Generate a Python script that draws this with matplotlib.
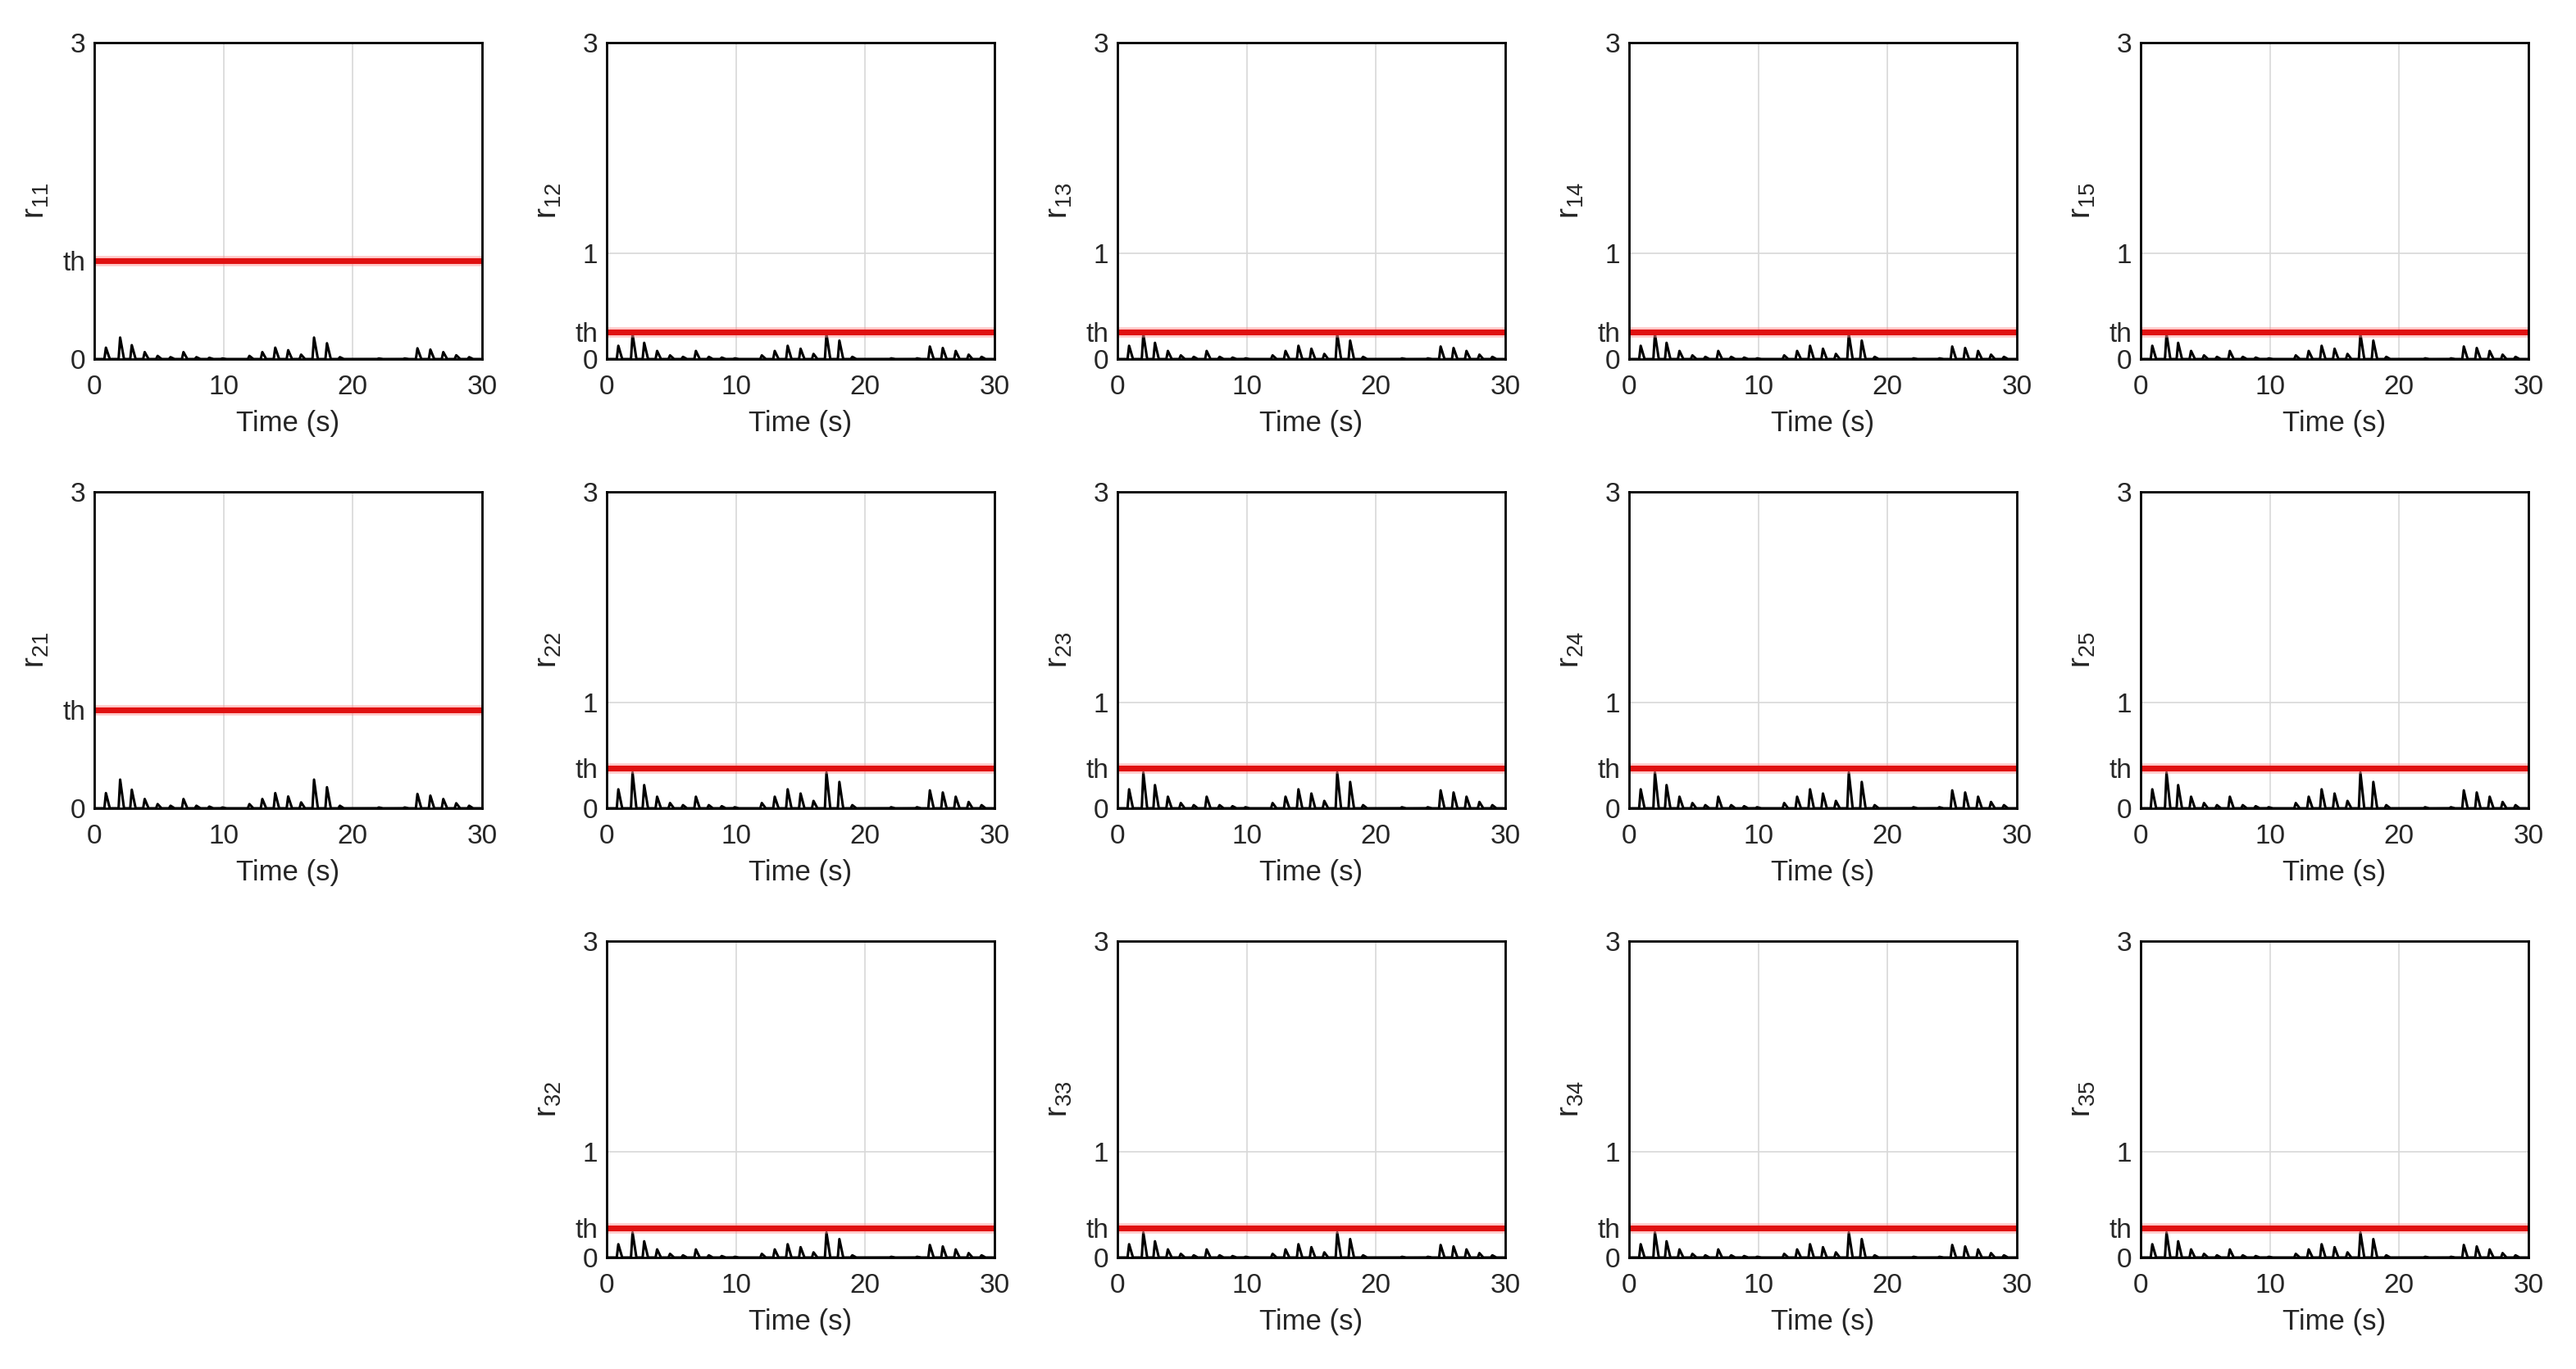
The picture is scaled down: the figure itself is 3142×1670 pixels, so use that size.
import numpy as np
import matplotlib
matplotlib.use('Agg')
import matplotlib.pyplot as plt

plt.rcParams['font.family'] = ['Liberation Sans', 'DejaVu Sans']
plt.rcParams['mathtext.default'] = 'regular'

# peak times (s) and base heights
peak_t = [0.9, 2.0, 2.9, 3.9, 4.9, 5.9, 6.9, 7.9, 8.9, 9.9, 12.0, 13.0, 14.0, 15.0, 16.0, 17.0, 18.0,
          19.0, 22.0, 24.0, 25.0, 26.0, 27.0, 28.0, 29.0]
peak_h = [0.18, 0.34, 0.22, 0.11, 0.05, 0.03, 0.11, 0.03, 0.02, 0.01, 0.05, 0.11, 0.18, 0.14, 0.07, 0.34, 0.25,
          0.03, 0.01, 0.01, 0.17, 0.15, 0.11, 0.06, 0.03]

# panels: (row, col, name, threshold, gain, show tick at 1)
rows = [0, 0, 0, 0, 0, 1, 1, 1, 1, 1, 2, 2, 2, 2]
cols = [0, 1, 2, 3, 4, 0, 1, 2, 3, 4, 1, 2, 3, 4]
names = ['11', '12', '13', '14', '15', '21', '22', '23', '24', '25', '32', '33', '34', '35']
thresholds = [0.93, 0.26, 0.26, 0.26, 0.26, 0.93, 0.38, 0.38, 0.38, 0.38, 0.28, 0.28, 0.28, 0.28]
gains = [0.6, 0.7, 0.7, 0.7, 0.7, 0.8, 1.0, 1.0, 1.0, 1.0, 0.7, 0.7, 0.7, 0.7]
tick_one = [False, True, True, True, True, False, True, True, True, True, True, True, True, True]

W, H = 3142, 1670
col_left = [115, 740, 1363, 1987, 2611]
row_top = [52, 600, 1148]
aw, ah = 473, 386

# triangle-shaped spikes built from the peak list
vx, vy = [0.0], [0.0]
for t, h in zip(peak_t, peak_h):
    vx += [t - 0.12, t, t + 0.3]
    vy += [0.0, h, 0.0]
vx.append(30.0)
vy.append(0.0)
tt = np.linspace(0, 30, 3001)
base = np.interp(tt, vx, vy)

fig = plt.figure(figsize=(W / 100, H / 100), dpi=100)
for r, c, nm, th, g, one in zip(rows, cols, names, thresholds, gains, tick_one):
    ax = fig.add_axes([col_left[c] / W, 1 - (row_top[r] + ah) / H, aw / W, ah / H])
    ax.plot(tt, base * g, color='black', lw=2.2)
    ax.axhline(th, color='#ff9090', lw=9, alpha=0.5)
    ax.axhline(th, color='#e01010', lw=5)
    ax.set_xlim(0, 30)
    ax.set_ylim(0, 3)
    ax.set_xticks([0, 10, 20, 30])
    if one:
        ax.set_yticks([0, th, 1, 3])
        ax.set_yticklabels(['0', 'th', '1', '3'])
    else:
        ax.set_yticks([0, th, 3])
        ax.set_yticklabels(['0', 'th', '3'])
    ax.grid(True, color='#d8d8d8', lw=1.2)
    ax.tick_params(labelsize=24, length=0, colors='#262626')
    ax.tick_params(axis='x', pad=14)
    ax.tick_params(axis='y', pad=8)
    for s in ax.spines.values():
        s.set_linewidth(2)
    ax.set_xlabel('Time (s)', fontsize=25, color='#262626', labelpad=8)
    ax.set_ylabel('$r_{%s}$' % nm, fontsize=28, color='#262626', labelpad=10)

fig.savefig('out.png', dpi=100)
